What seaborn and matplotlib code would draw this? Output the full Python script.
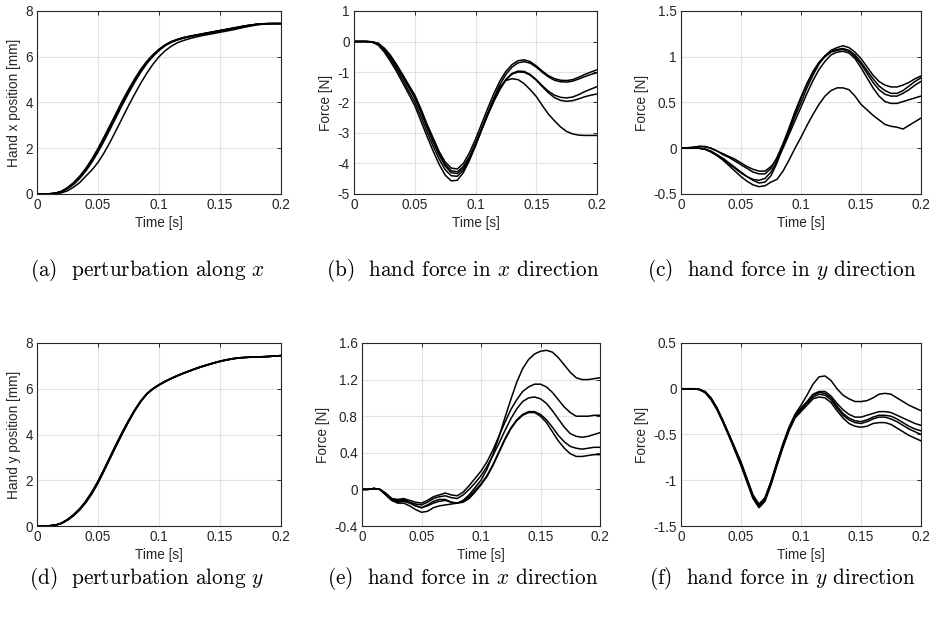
import numpy as np
import pandas as pd
import matplotlib
matplotlib.use("Agg")
import matplotlib.pyplot as plt
import seaborn as sns

# ---------------- data ----------------
TIME = [round(0.005 * i, 3) for i in range(41)]

# (a) hand x position, perturbation along x
A1 = [0,0,0.01,0.03,0.1,0.25,0.45,0.72,1.05,1.45,1.9,2.4,2.92,3.45,3.98,4.48,4.95,5.38,5.75,6.05,6.3,6.5,6.65,6.75,6.83,6.89,6.94,6.99,7.04,7.09,7.14,7.19,7.24,7.29,7.34,7.38,7.42,7.44,7.45,7.45,7.45]
A2 = [0,0,0.01,0.04,0.12,0.28,0.5,0.78,1.12,1.53,1.99,2.5,3.02,3.55,4.08,4.57,5.03,5.45,5.8,6.09,6.33,6.52,6.66,6.76,6.84,6.9,6.95,7.0,7.05,7.1,7.15,7.2,7.25,7.3,7.35,7.39,7.42,7.44,7.45,7.45,7.45]
A3 = [0,0,0.01,0.03,0.09,0.23,0.42,0.68,1.0,1.39,1.83,2.32,2.84,3.37,3.9,4.4,4.88,5.32,5.7,6.01,6.27,6.48,6.63,6.73,6.81,6.87,6.92,6.97,7.02,7.07,7.12,7.17,7.22,7.27,7.32,7.37,7.41,7.44,7.45,7.45,7.45]
A4 = [0,0,0.01,0.03,0.11,0.26,0.47,0.75,1.08,1.49,1.95,2.45,2.97,3.5,4.03,4.52,4.99,5.41,5.77,6.07,6.31,6.51,6.65,6.75,6.83,6.89,6.94,6.99,7.04,7.09,7.14,7.19,7.24,7.29,7.34,7.38,7.42,7.44,7.45,7.45,7.45]
A5 = [0,0,0,0.01,0.05,0.14,0.3,0.5,0.78,1.05,1.38,1.8,2.28,2.8,3.33,3.86,4.36,4.84,5.28,5.67,6.0,6.26,6.46,6.61,6.71,6.79,6.86,6.92,6.97,7.02,7.07,7.12,7.17,7.23,7.29,7.34,7.39,7.42,7.44,7.45,7.45]

# (b) hand force in x direction
B1 = [0,0,0,-0.01,-0.06,-0.22,-0.45,-0.75,-1.08,-1.42,-1.75,-2.2,-2.7,-3.15,-3.6,-3.95,-4.15,-4.18,-4.0,-3.65,-3.2,-2.7,-2.2,-1.72,-1.3,-0.98,-0.76,-0.63,-0.6,-0.66,-0.8,-0.97,-1.12,-1.22,-1.27,-1.28,-1.25,-1.17,-1.08,-1.0,-0.93]
B2 = [0,0,0,-0.01,-0.08,-0.25,-0.5,-0.82,-1.15,-1.5,-1.85,-2.3,-2.8,-3.28,-3.72,-4.08,-4.3,-4.33,-4.15,-3.8,-3.35,-2.85,-2.35,-1.86,-1.42,-1.08,-0.84,-0.7,-0.66,-0.71,-0.84,-1.01,-1.16,-1.27,-1.32,-1.33,-1.3,-1.23,-1.15,-1.08,-1.02]
B3 = [0,0,0,-0.01,-0.07,-0.24,-0.48,-0.8,-1.12,-1.48,-1.82,-2.28,-2.78,-3.25,-3.68,-4.02,-4.24,-4.27,-4.1,-3.78,-3.36,-2.88,-2.4,-1.95,-1.55,-1.24,-1.05,-0.97,-0.98,-1.08,-1.25,-1.45,-1.63,-1.76,-1.83,-1.85,-1.82,-1.74,-1.64,-1.56,-1.48]
B4 = [0,0,0,-0.02,-0.1,-0.3,-0.58,-0.9,-1.25,-1.62,-1.98,-2.45,-2.95,-3.42,-3.85,-4.2,-4.4,-4.42,-4.22,-3.85,-3.4,-2.9,-2.42,-1.97,-1.58,-1.26,-1.07,-1.0,-1.01,-1.1,-1.27,-1.48,-1.68,-1.84,-1.93,-1.96,-1.94,-1.88,-1.81,-1.76,-1.72]
B5 = [0,0,0,-0.02,-0.12,-0.35,-0.65,-0.98,-1.35,-1.72,-2.1,-2.6,-3.1,-3.58,-4.02,-4.38,-4.57,-4.55,-4.3,-3.9,-3.42,-2.9,-2.38,-1.9,-1.5,-1.28,-1.22,-1.25,-1.38,-1.58,-1.8,-2.1,-2.38,-2.6,-2.8,-2.95,-3.03,-3.07,-3.08,-3.08,-3.08]

# (c) hand force in y direction
C1 = [0,0.005,0.01,0.02,0.02,0.0,-0.03,-0.06,-0.09,-0.12,-0.16,-0.2,-0.23,-0.25,-0.25,-0.2,-0.12,0.02,0.18,0.35,0.5,0.66,0.8,0.92,1.01,1.07,1.1,1.12,1.1,1.05,0.98,0.89,0.8,0.73,0.69,0.67,0.67,0.69,0.72,0.76,0.79]
C2 = [0,0.005,0.01,0.02,0.015,0,-0.03,-0.07,-0.1,-0.14,-0.18,-0.22,-0.26,-0.28,-0.28,-0.22,-0.1,0.05,0.22,0.4,0.56,0.71,0.84,0.94,1.01,1.06,1.08,1.09,1.07,1.02,0.94,0.85,0.76,0.68,0.63,0.6,0.6,0.63,0.68,0.73,0.77]
C3 = [0,0,0,0,-0.01,-0.03,-0.07,-0.11,-0.16,-0.21,-0.26,-0.31,-0.35,-0.38,-0.37,-0.3,-0.16,0.02,0.2,0.38,0.55,0.7,0.83,0.93,1.0,1.05,1.07,1.08,1.06,1.0,0.92,0.82,0.72,0.64,0.59,0.57,0.57,0.6,0.64,0.69,0.73]
C4 = [0,0,0,0,-0.01,-0.04,-0.08,-0.12,-0.17,-0.22,-0.27,-0.31,-0.34,-0.35,-0.33,-0.26,-0.14,0.0,0.15,0.3,0.45,0.6,0.74,0.86,0.95,1.02,1.05,1.06,1.04,0.98,0.88,0.77,0.66,0.57,0.51,0.49,0.49,0.51,0.53,0.55,0.57]
C5 = [0,0,0,0,-0.01,-0.04,-0.08,-0.13,-0.19,-0.25,-0.31,-0.36,-0.4,-0.42,-0.41,-0.37,-0.34,-0.25,-0.13,0.0,0.12,0.25,0.37,0.48,0.57,0.63,0.66,0.66,0.64,0.57,0.48,0.42,0.36,0.31,0.26,0.24,0.23,0.21,0.25,0.29,0.33]

# (d) hand y position, perturbation along y
D1 = [0,0,0.01,0.04,0.12,0.27,0.47,0.73,1.05,1.45,1.92,2.45,3.0,3.55,4.08,4.58,5.05,5.45,5.78,6.0,6.17,6.32,6.45,6.57,6.68,6.78,6.88,6.97,7.05,7.13,7.2,7.26,7.31,7.35,7.37,7.38,7.39,7.4,7.41,7.43,7.45]
D2 = [0,0,0.01,0.04,0.13,0.29,0.5,0.76,1.09,1.49,1.96,2.49,3.04,3.59,4.12,4.61,5.07,5.47,5.79,6.01,6.18,6.33,6.46,6.58,6.69,6.79,6.89,6.98,7.06,7.14,7.21,7.27,7.32,7.35,7.37,7.38,7.39,7.4,7.41,7.43,7.45]
D3 = [0,0,0.01,0.03,0.11,0.25,0.45,0.7,1.02,1.41,1.88,2.41,2.96,3.51,4.04,4.55,5.02,5.43,5.76,5.99,6.16,6.31,6.44,6.56,6.67,6.77,6.87,6.96,7.04,7.12,7.19,7.25,7.3,7.34,7.36,7.38,7.39,7.4,7.41,7.43,7.45]
D4 = [0,0,0.01,0.04,0.12,0.28,0.49,0.75,1.08,1.48,1.95,2.48,3.03,3.58,4.11,4.6,5.06,5.46,5.78,6.0,6.17,6.32,6.45,6.57,6.68,6.78,6.88,6.97,7.05,7.13,7.2,7.26,7.31,7.35,7.37,7.38,7.39,7.4,7.41,7.43,7.45]
D5 = [0,0,0.01,0.03,0.11,0.26,0.46,0.71,1.03,1.42,1.89,2.42,2.97,3.52,4.05,4.56,5.03,5.44,5.77,5.99,6.16,6.31,6.44,6.56,6.67,6.77,6.87,6.96,7.04,7.12,7.19,7.25,7.3,7.34,7.36,7.38,7.39,7.4,7.41,7.43,7.45]

# (e) hand force in x direction
E1 = [0,0,0.01,0.0,-0.04,-0.1,-0.12,-0.11,-0.14,-0.18,-0.2,-0.17,-0.13,-0.11,-0.11,-0.14,-0.15,-0.12,-0.06,0.02,0.1,0.22,0.38,0.57,0.78,0.98,1.17,1.32,1.42,1.48,1.51,1.52,1.5,1.44,1.36,1.28,1.22,1.2,1.2,1.21,1.22]
E2 = [0,0,0.01,0,-0.05,-0.1,-0.11,-0.1,-0.12,-0.14,-0.15,-0.12,-0.08,-0.06,-0.04,-0.06,-0.07,-0.03,0.04,0.12,0.2,0.3,0.43,0.58,0.73,0.87,0.98,1.07,1.12,1.15,1.15,1.12,1.06,0.98,0.9,0.84,0.8,0.8,0.8,0.81,0.81]
E3 = [0,0,0.01,0,-0.05,-0.11,-0.13,-0.12,-0.14,-0.16,-0.17,-0.14,-0.1,-0.08,-0.07,-0.09,-0.1,-0.06,0.0,0.07,0.15,0.25,0.37,0.5,0.64,0.77,0.88,0.96,1.0,1.01,0.99,0.94,0.86,0.77,0.68,0.61,0.58,0.57,0.58,0.6,0.62]
E4 = [0,0,0.01,0,-0.06,-0.12,-0.14,-0.13,-0.15,-0.18,-0.2,-0.18,-0.15,-0.13,-0.12,-0.14,-0.15,-0.13,-0.08,-0.01,0.06,0.15,0.27,0.41,0.55,0.67,0.76,0.82,0.85,0.85,0.82,0.76,0.68,0.59,0.52,0.47,0.45,0.44,0.45,0.46,0.46]
E5 = [0,0,0.01,0,-0.06,-0.12,-0.15,-0.15,-0.18,-0.22,-0.25,-0.24,-0.2,-0.18,-0.17,-0.16,-0.15,-0.14,-0.1,-0.03,0.05,0.14,0.26,0.4,0.54,0.66,0.75,0.81,0.84,0.84,0.8,0.73,0.63,0.53,0.45,0.39,0.36,0.36,0.37,0.38,0.38]

# (f) hand force in y direction
F1 = [0,0,0,-0.005,-0.03,-0.1,-0.21,-0.35,-0.5,-0.65,-0.8,-0.98,-1.16,-1.26,-1.19,-1.01,-0.8,-0.6,-0.42,-0.28,-0.18,-0.07,0.05,0.13,0.14,0.09,0.0,-0.07,-0.11,-0.14,-0.14,-0.13,-0.1,-0.06,-0.05,-0.06,-0.1,-0.14,-0.18,-0.21,-0.24]
F2 = [0,0,0,-0.005,-0.03,-0.1,-0.21,-0.35,-0.5,-0.65,-0.81,-0.99,-1.17,-1.27,-1.2,-1.02,-0.81,-0.61,-0.43,-0.29,-0.21,-0.14,-0.06,-0.03,-0.03,-0.08,-0.16,-0.23,-0.28,-0.31,-0.31,-0.29,-0.27,-0.25,-0.25,-0.26,-0.29,-0.32,-0.35,-0.38,-0.4]
F3 = [0,0,0,-0.005,-0.04,-0.11,-0.22,-0.36,-0.51,-0.66,-0.82,-1.0,-1.18,-1.28,-1.21,-1.03,-0.82,-0.62,-0.44,-0.3,-0.22,-0.15,-0.07,-0.04,-0.05,-0.1,-0.19,-0.27,-0.32,-0.35,-0.36,-0.34,-0.31,-0.29,-0.29,-0.3,-0.33,-0.37,-0.41,-0.44,-0.46]
F4 = [0,0,0,-0.005,-0.04,-0.11,-0.22,-0.36,-0.51,-0.67,-0.83,-1.01,-1.19,-1.29,-1.22,-1.04,-0.83,-0.63,-0.45,-0.31,-0.23,-0.16,-0.09,-0.06,-0.07,-0.12,-0.21,-0.29,-0.34,-0.37,-0.38,-0.36,-0.33,-0.31,-0.31,-0.33,-0.36,-0.4,-0.44,-0.47,-0.5]
F5 = [0,0,0,-0.01,-0.04,-0.12,-0.23,-0.37,-0.52,-0.68,-0.84,-1.02,-1.2,-1.3,-1.23,-1.05,-0.84,-0.64,-0.46,-0.32,-0.25,-0.18,-0.11,-0.09,-0.1,-0.15,-0.24,-0.32,-0.38,-0.41,-0.42,-0.41,-0.38,-0.37,-0.37,-0.39,-0.43,-0.47,-0.51,-0.54,-0.57]

X_TICKS = [0, 0.05, 0.1, 0.15, 0.2]
X_TICKLABELS = ["0", "0.05", "0.1", "0.15", "0.2"]

YT_A = [0, 2, 4, 6, 8]
YL_A = ["0", "2", "4", "6", "8"]
YT_B = [-5, -4, -3, -2, -1, 0, 1]
YL_B = ["-5", "-4", "-3", "-2", "-1", "0", "1"]
YT_C = [-0.5, 0, 0.5, 1, 1.5]
YL_C = ["-0.5", "0", "0.5", "1", "1.5"]
YT_D = [0, 2, 4, 6, 8]
YL_D = ["0", "2", "4", "6", "8"]
YT_E = [-0.4, 0, 0.4, 0.8, 1.2, 1.6]
YL_E = ["-0.4", "0", "0.4", "0.8", "1.2", "1.6"]
YT_F = [-1.5, -1, -0.5, 0, 0.5]
YL_F = ["-1.5", "-1", "-0.5", "0", "0.5"]

Y_LABELS = ["Hand x position [mm]", "Force [N]", "Force [N]",
            "Hand y position [mm]", "Force [N]", "Force [N]"]
X_LABEL = "Time [s]"
CAPTIONS = [r"(a)  perturbation along $x$", r"(b)  hand force in $x$ direction",
            r"(c)  hand force in $y$ direction", r"(d)  perturbation along $y$",
            r"(e)  hand force in $x$ direction", r"(f)  hand force in $y$ direction"]

# ---------------- style ----------------
sns.set_theme(style="white")
plt.rcParams["font.family"] = ["Liberation Sans", "DejaVu Sans"]
plt.rcParams["mathtext.fontset"] = "cm"

INK = "#262626"
W, H = 930, 619
fig = plt.figure(figsize=(W / 100, H / 100), dpi=100)
fig.patch.set_facecolor("white")

# axes boxes in pixels: left, top, right, bottom
BOXES = [(37, 11, 281, 194), (354, 11, 597, 194), (681, 11, 921, 194),
         (37, 343, 281, 526), (362, 343, 600, 526), (681, 343, 921, 526)]
PANELS = [([A1, A2, A3, A4, A5], (0, 8), YT_A, YL_A),
          ([B1, B2, B3, B4, B5], (-5, 1), YT_B, YL_B),
          ([C1, C2, C3, C4, C5], (-0.5, 1.5), YT_C, YL_C),
          ([D1, D2, D3, D4, D5], (0, 8), YT_D, YL_D),
          ([E1, E2, E3, E4, E5], (-0.4, 1.6), YT_E, YL_E),
          ([F1, F2, F3, F4, F5], (-1.5, 0.5), YT_F, YL_F)]

for i, ((curves, ylim, yt, yl), (l, t, r, b)) in enumerate(zip(PANELS, BOXES)):
    ax = fig.add_axes([l / W, 1 - b / H, (r - l) / W, (b - t) / H])
    rows = []
    for k, c in enumerate(curves):
        for tt, v in zip(TIME, c):
            rows.append((tt, v, k))
    df = pd.DataFrame(rows, columns=["t", "v", "curve"])
    sns.lineplot(data=df, x="t", y="v", units="curve", estimator=None,
                 color="black", lw=1.1, ax=ax, legend=False)
    ax.set_xlim(0, 0.2)
    ax.set_ylim(*ylim)
    ax.set_xticks(X_TICKS)
    ax.set_xticklabels(X_TICKLABELS)
    ax.set_yticks(yt)
    ax.set_yticklabels(yl)
    ax.set_xlabel(X_LABEL, fontsize=9.8, color=INK, labelpad=3)
    ax.set_ylabel(Y_LABELS[i], fontsize=9.8, color=INK, labelpad=3)
    ax.set_axisbelow(True)
    ax.grid(True, color="#e2e2e2", lw=0.8)
    ax.tick_params(direction="in", length=3, width=0.7, top=True, right=True,
                   labelsize=9.8, colors=INK, pad=3)
    for s in ax.spines.values():
        s.set_color(INK)
        s.set_linewidth(0.8)
        s.set_visible(True)

CAP_X = [147, 463, 782, 147, 463, 782]
CAP_Y = [271, 271, 271, 578, 578, 578]
for cap, cx, cy in zip(CAPTIONS, CAP_X, CAP_Y):
    fig.text(cx / W, 1 - cy / H, cap, ha="center", va="center",
             fontsize=15.3, family="cmr10", color="black")

fig.savefig("out.png", dpi=100, facecolor="white")
